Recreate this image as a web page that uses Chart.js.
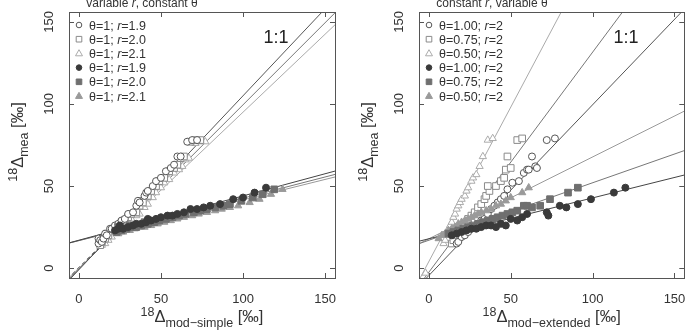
<!DOCTYPE html>
<html><head><meta charset="utf-8">
<script src="https://cdn.jsdelivr.net/npm/chart.js@4.4.0/dist/chart.umd.min.js"></script>
<style>
html,body{margin:0;padding:0;background:#fff;width:690px;height:335px;overflow:hidden}
canvas{position:absolute;top:0}
#c1{left:0}#c2{left:345px}
</style></head><body>
<canvas id="c1" width="345" height="335"></canvas>
<canvas id="c2" width="345" height="335"></canvas>
<script>
// ---------- data ----------
const tickValues = [0, 50, 100, 150];
const tickLabels = ['0', '50', '100', '150'];

// left panel: variable r, constant theta
const leftOpenR19 = [[12,15],[12,18],[13,17],[14,16],[15,18],[16,21],[17,20],[19,24],[20,24],[22,26],[24,27],[26,29],[28,30],[30,33],[33,34],[35,38],[36,41],[37,40],[40,44],[41,46],[42,47],[45,50],[47,53],[50,55],[53,59],[56,61],[58,63],[60,68],[62,68],[66,77],[69,78],[72,78]];
const leftOpenR20 = [[13,14],[13,17],[14,16],[16,18],[17,21],[18,20],[21,24],[24,26],[26,28],[28,29],[30,31],[32,33],[35,34],[37,38],[38,41],[39,40],[42,44],[44,47],[47,50],[49,53],[52,55],[55,59],[58,61],[60,63],[62,67],[64,68],[68,77],[71,78],[74,78]];
const leftOpenR21 = [[14,14],[15,17],[16,15],[18,17],[19,20],[20,19],[23,23],[26,25],[28,27],[30,28],[32,30],[35,32],[37,33],[40,37],[41,40],[42,39],[45,43],[47,46],[50,49],[52,52],[55,54],[58,58],[61,60],[63,62],[65,66],[67,67],[71,76],[74,77],[77,77]];
const leftFillR19 = [[22,23],[24,24],[25,26],[27,24],[30,25],[33,26],[35,27],[38,27],[41,28],[42,30],[44,29],[47,30],[50,31],[54,32],[57,32],[60,33],[64,34],[68,36],[72,36],[76,37],[80,38],[86,39],[94,42],[100,43],[107,46],[114,49]];
const leftFillR20 = [[23,22],[24,25],[26,23],[29,24],[31,26],[32,25],[35,25],[38,26],[40,28],[42,27],[46,28],[49,29],[53,30],[57,31],[61,32],[65,33],[70,34],[74,35],[78,36],[83,37],[88,38],[92,39],[99,41],[106,43],[112,45],[119,48]];
const leftFillR21 = [[24,21],[25,24],[27,22],[29,25],[31,23],[34,24],[37,25],[40,25],[44,26],[46,28],[48,27],[52,28],[56,29],[60,30],[64,31],[69,32],[73,33],[78,34],[83,35],[87,36],[92,37],[97,38],[104,40],[110,42],[117,45],[124,48]];
// fitted lines: [x,y] end points
const leftLineOpenR19 = [[-10,-11.6],[170,179.2]];
const leftLineOpenR20 = [[-10,-10.5],[170,169.5]];
const leftLineOpenR21 = [[-10,-9.5],[170,161.5]];
const leftLineFillR19 = [[-10,14.3],[170,62.9]];
const leftLineFillR20 = [[-10,14.2],[170,60.7]];
const leftLineFillR21 = [[-10,14.3],[170,59.0]];
const leftDashed = [[-10,-10],[14,14]];
const leftThetas = ['1','1','1','1','1','1'];
const leftRs = ['1.9','2.0','2.1','1.9','2.0','2.1'];

// right panel: constant r, variable theta
const rightOpenT100 = [[17,15],[18,16],[20,19],[22,20],[24,22],[26,24],[28,25],[30,27],[32,29],[34,30],[36,33],[38,36],[40,38],[42,40],[44,42],[46,44],[48,48],[51,52],[55,53],[58,58],[60,60],[61,60],[63,68],[65,62],[66,61],[72,78],[77,79]];
const rightOpenT075 = [[14,15],[15,17],[16,20],[18,22],[20,25],[22,27],[24,30],[26,32],[28,34],[30,37],[32,39],[34,42],[35,44],[37,47],[36,50],[41,50],[44,53],[46,55],[47,60],[50,61],[48,68],[54,78],[57,79]];
const rightOpenT050 = [[-2,-3],[9,15],[10,17],[11,20],[12,24],[13,26],[14,28],[15,31],[16,33],[17,36],[18,38],[19,40],[20,42],[22,44],[23,47],[24,49],[26,53],[27,55],[29,57],[31,62],[33,68],[36,78],[39,79]];
const rightFillT100 = [[14,20],[17,21],[20,22],[23,23],[26,24],[29,24],[32,25],[35,26],[38,26],[41,25],[44,27],[47,26],[50,30],[54,29],[57,31],[60,33],[72,34],[73,32],[80,38],[84,37],[91,39],[99,42],[113,46],[120,49]];
const rightFillT075 = [[12,21],[15,22],[18,23],[21,24],[24,25],[27,26],[30,27],[33,28],[36,29],[39,30],[42,31],[45,32],[48,33],[51,34],[54,35],[58,38],[60,38],[63,37],[68,38],[74,42],[85,46],[91,49]];
const rightFillT050 = [[6,18],[8,20],[10,21],[12,23],[14,24],[16,25],[18,27],[20,28],[22,29],[24,30],[26,31],[28,32],[30,33],[32,34],[35,35],[38,36],[41,38],[44,39],[47,41],[50,43],[57,46],[61,49]];
const rightLineOpenT100 = [[-10,-14.9],[170,172.3]];
const rightLineOpenT075 = [[-10,-15.9],[170,225.3]];
const rightLineOpenT050 = [[-10,-14.8],[170,323.6]];
const rightLineFillT100 = [[-10,15.4],[170,60.2]];
const rightLineFillT075 = [[-10,13.5],[170,76.5]];
const rightLineFillT050 = [[-10,12.9],[170,102.6]];
const rightThetas = ['1.00','0.75','0.50','1.00','0.75','0.50'];
const rightRs = ['2','2','2','2','2','2'];

// ---------- styling ----------
const FONT = '"Liberation Sans", Arial, Helvetica, sans-serif';
const seriesColors = ['#555555','#8a8a8a','#ababab','#3a3a3a','#6f6f6f','#9a9a9a'];
const seriesStyles = ['circle','rect','triangle','circle','rect','triangle'];
const seriesFilled = [false,false,false,true,true,true];
const seriesRadius = {circle:3.5, rect:4.7, triangle:4.2};

function toXY(a){ return a.map(p => ({x:p[0], y:p[1]})); }

function pointDs(arr, i){
  return {
    data: toXY(arr), showLine:false, order:1,
    pointStyle: seriesStyles[i], pointRadius: seriesRadius[seriesStyles[i]],
    pointBorderWidth: 1, pointBorderColor: seriesColors[i],
    pointBackgroundColor: seriesFilled[i] ? seriesColors[i] : '#ffffff',
    pointHoverRadius: seriesRadius[seriesStyles[i]]
  };
}
function lineDs(arr, color, dash){
  return {
    data: toXY(arr), showLine:true, order:2, pointRadius:0, pointHoverRadius:0,
    borderColor: color, borderWidth: dash ? 1.5 : 1, borderDash: dash || [], fill:false
  };
}

function drawMarker(ctx, style, x, y, color, filled){
  ctx.save();
  ctx.strokeStyle = color; ctx.fillStyle = filled ? color : '#fff'; ctx.lineWidth = 1;
  ctx.beginPath();
  if (style === 'circle') { ctx.arc(x, y, 2.8, 0, Math.PI*2); }
  else if (style === 'rect') { ctx.rect(x-2.8, y-2.8, 5.6, 5.6); }
  else { ctx.moveTo(x, y-3.7); ctx.lineTo(x+3.5, y+2.4); ctx.lineTo(x-3.5, y+2.4); ctx.closePath(); }
  ctx.fill(); ctx.stroke();
  ctx.restore();
}

function rich(ctx, parts, x, y, align){
  let w = 0;
  parts.forEach(p => { ctx.font = p.f; p.w = ctx.measureText(p.t).width; w += p.w; });
  let cx = align === 'center' ? x - w/2 : x;
  ctx.textAlign = 'left'; ctx.textBaseline = 'alphabetic';
  parts.forEach(p => { ctx.font = p.f; ctx.fillText(p.t, cx, y + (p.dy || 0)); cx += p.w; });
}

function framePlugin(cfg){
  return {
    id: 'frame' + cfg.id,
    afterDraw(chart){
      const ctx = chart.ctx, a = chart.chartArea;
      const xs = chart.scales.x, ys = chart.scales.y;
      ctx.save();
      // box
      ctx.strokeStyle = '#555'; ctx.lineWidth = 1;
      ctx.strokeRect(Math.round(a.left)+0.5, Math.round(a.top)+0.5, Math.round(a.right-a.left), Math.round(a.bottom-a.top));
      // inward ticks on four sides
      const tl = 5;
      ctx.beginPath();
      tickValues.forEach(v => {
        const px = Math.round(xs.getPixelForValue(v)) + 0.5;
        ctx.moveTo(px, a.bottom); ctx.lineTo(px, a.bottom - tl);
        ctx.moveTo(px, a.top); ctx.lineTo(px, a.top + tl);
        const py = Math.round(ys.getPixelForValue(v)) + 0.5;
        ctx.moveTo(a.left, py); ctx.lineTo(a.left + tl, py);
        ctx.moveTo(a.right, py); ctx.lineTo(a.right - tl, py);
      });
      ctx.stroke();
      // tick labels
      ctx.fillStyle = '#333';
      ctx.font = '13px ' + FONT;
      ctx.textAlign = 'center'; ctx.textBaseline = 'middle';
      tickValues.forEach((v, i) => {
        ctx.fillText(tickLabels[i], xs.getPixelForValue(v), 299);
        ctx.save();
        ctx.translate(a.left - 20, ys.getPixelForValue(v));
        ctx.rotate(-Math.PI/2);
        ctx.fillText(tickLabels[i], 0, 0);
        ctx.restore();
      });
      // x title
      const big = '16.5px ' + FONT, small = '12.5px ' + FONT;
      rich(ctx, [
        {t:'18', f:small, dy:-6.5},
        {t:'\u0394', f:big},
        {t:cfg.xsub, f:small, dy:4.5},
        {t:' [\u2030]', f:big}
      ], (a.left + a.right)/2, 322, 'center');
      // y title (rotated)
      ctx.save();
      ctx.translate(a.left - 46, (a.top + a.bottom)/2 - 3);
      ctx.rotate(-Math.PI/2);
      rich(ctx, [
        {t:'18', f:small, dy:-6.5},
        {t:'\u0394', f:big},
        {t:'mea', f:small, dy:4.5},
        {t:' [\u2030]', f:big}
      ], 0, 0, 'center');
      ctx.restore();
      // panel title (cut at the top)
      const tf = '12px ' + FONT, tfi = 'italic 12px ' + FONT;
      rich(ctx, [
        {t:cfg.title[0], f:tf}, {t:'r', f:tfi}, {t:cfg.title[1], f:tf}
      ], a.left + 73, 6.5, 'center');
      // 1:1 label
      ctx.font = '18px ' + FONT; ctx.fillStyle = '#222';
      ctx.textAlign = 'center'; ctx.textBaseline = 'middle';
      ctx.fillText('1:1', a.left + 207, 38.5);
      // legend
      const lf = '12.5px ' + FONT, lfi = 'italic 12.5px ' + FONT;
      for (let i = 0; i < 6; i++) {
        const yy = 25 + i * 14.2;
        drawMarker(ctx, seriesStyles[i], a.left + 10, yy, seriesColors[i], seriesFilled[i]);
        ctx.fillStyle = '#333';
        rich(ctx, [
          {t:'\u03b8=' + cfg.thetas[i] + '; ', f:lf},
          {t:'r', f:lfi},
          {t:'=' + cfg.rs[i], f:lf}
        ], a.left + 20, yy + 4.5, 'left');
      }
      ctx.restore();
    }
  };
}

function makeChart(id, datasets, pad, cfg){
  return new Chart(document.getElementById(id), {
    type: 'scatter',
    data: { datasets },
    options: {
      responsive: false, animation: false, devicePixelRatio: 1,
      layout: { padding: pad },
      plugins: { legend: {display:false}, tooltip: {enabled:false} },
      scales: {
        x: { type:'linear', min:-6, max:156, display:false },
        y: { type:'linear', min:-6, max:156, display:false }
      }
    },
    plugins: [framePlugin(cfg)]
  });
}

makeChart('c1', [
  lineDs(leftLineOpenR19, '#555'),
  lineDs(leftLineOpenR20, '#777'),
  lineDs(leftLineOpenR21, '#aaa'),
  lineDs(leftLineFillR19, '#444'),
  lineDs(leftLineFillR20, '#777'),
  lineDs(leftLineFillR21, '#999'),
  lineDs(leftDashed, '#333', [4,3]),
  pointDs(leftFillR19, 3),
  pointDs(leftFillR20, 4),
  pointDs(leftFillR21, 5),
  pointDs(leftOpenR19, 0),
  pointDs(leftOpenR20, 1),
  pointDs(leftOpenR21, 2)
], {left:69, right:10, top:12, bottom:57},
{id:1, xsub:'mod\u2212simple', title:['variable ', ', constant \u03b8'], thetas:leftThetas, rs:leftRs});

makeChart('c2', [
  lineDs(rightLineOpenT100, '#555'),
  lineDs(rightLineOpenT075, '#777'),
  lineDs(rightLineOpenT050, '#aaa'),
  lineDs(rightLineFillT100, '#444'),
  lineDs(rightLineFillT075, '#777'),
  lineDs(rightLineFillT050, '#999'),
  pointDs(rightFillT100, 3),
  pointDs(rightFillT075, 4),
  pointDs(rightFillT050, 5),
  pointDs(rightOpenT100, 0),
  pointDs(rightOpenT075, 1),
  pointDs(rightOpenT050, 2)
], {left:74, right:3, top:12, bottom:57},
{id:2, xsub:'mod\u2212extended', title:['constant ', ', variable \u03b8'], thetas:rightThetas, rs:rightRs});
</script>
</body></html>
